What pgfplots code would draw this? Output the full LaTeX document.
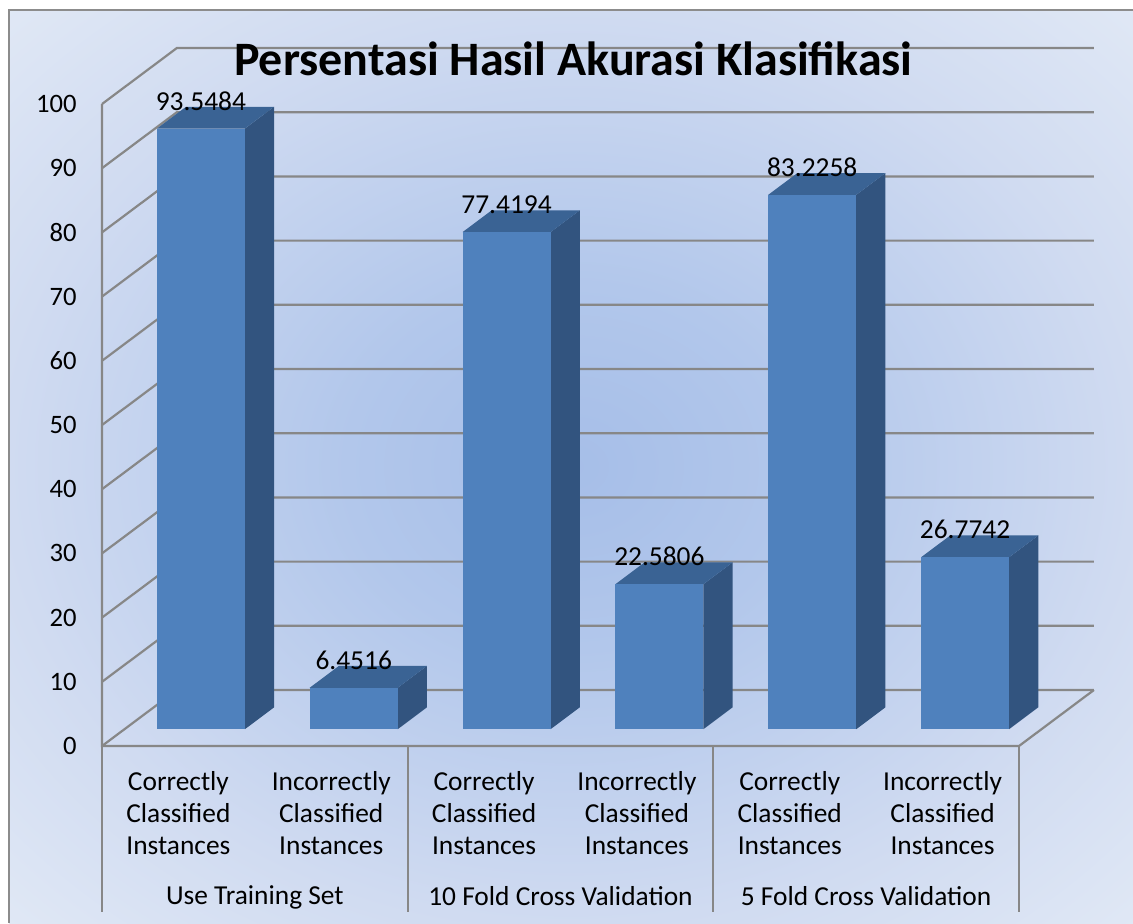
\documentclass[border=0pt]{standalone}
\usepackage{pgfplots}
\usepackage{pgfplotstable}
\pgfplotsset{compat=1.18}
\usepackage{fontspec}
\setmainfont{Carlito}
\definecolor{frontc}{HTML}{4F81BD}
\definecolor{sidec}{HTML}{32547F}
\definecolor{topc}{HTML}{3A6394}
\definecolor{gridc}{HTML}{878787}
\definecolor{bgin}{HTML}{A6BEE8}
\definecolor{bgq}{HTML}{B2C7EB}
\definecolor{bgmid}{HTML}{D0DBF1}
\definecolor{bgout}{HTML}{E0E8F5}
\pgfdeclareradialshading{bgshade}{\pgfpoint{0bp}{0bp}}{color(0bp)=(bgin); color(10bp)=(bgq); color(25bp)=(bgmid); color(35.5bp)=(bgout); color(50bp)=(bgout)}
\pgfplotstableread{
c v
0.5 93.5484
1.5 6.4516
2.5 77.4194
3.5 22.5806
4.5 83.2258
5.5 26.7742
}\datatab
\newcommand\cube[2]{%
 \pgfmathsetmacro\xa{#1-0.141}%
 \pgfmathsetmacro\xb{#1+0.435}%
 \pgfmathsetmacro\xc{#1+0.626}%
 \pgfmathsetmacro\xd{#1+0.05}%
 \pgfmathsetmacro\ya{2.62}%
 \pgfmathsetmacro\yb{#2+2.62}%
 \pgfmathsetmacro\yc{6.02}%
 \pgfmathsetmacro\yd{#2+6.02}%
 \addplot[fill=sidec, draw=none] coordinates {(\xb,\ya) (\xc,\yc) (\xc,\yd) (\xb,\yb)} -- cycle;
 \addplot[fill=topc, draw=none] coordinates {(\xa,\yb) (\xb,\yb) (\xc,\yd) (\xd,\yd)} -- cycle;
 \addplot[fill=frontc, draw=none] coordinates {(\xa,\ya) (\xb,\ya) (\xb,\yb) (\xa,\yb)} -- cycle;
}
\begin{document}
\begin{tikzpicture}
\fill[white] (0,0) rectangle (566.5pt,461.5pt);
\shade[shading=bgshade] (4.5pt,0) rectangle (566.5pt,456.5pt);
\draw[color=gray!90, line width=1pt] (4.5pt,0) -- (4.5pt,456.5pt) -- (566.5pt,456.5pt);
\begin{axis}[
  at={(51pt,88.5pt)}, anchor=south west,
  scale only axis, width=458.5pt, height=321pt,
  xmin=0, xmax=6, ymin=0, ymax=100,
  clip=false, no markers,
  axis line style={draw=none}, tick style={draw=none},
  ytick={0,10,...,100},
  yticklabel style={inner sep=0pt, xshift=-12.5pt, font=\fontsize{13.3}{15}\selectfont},
  /pgf/number format/assume math mode=true,
  xtick={0.5,1.5,...,5.5},
  xticklabels={{Correctly\\Classified\\Instances},{Incorrectly\\Classified\\Instances},{Correctly\\Classified\\Instances},{Incorrectly\\Classified\\Instances},{Correctly\\Classified\\Instances},{Incorrectly\\Classified\\Instances}},
  xticklabel style={inner sep=0pt, align=center, anchor=north, yshift=-12.3pt, font=\fontsize{13.7}{16}\selectfont},
  extra x ticks={1,3,5},
  extra x tick labels={Use Training Set,10 Fold Cross Validation,5 Fold Cross Validation},
  extra x tick style={xticklabel style={yshift=-57.5pt}},
  title={Persentasi Hasil Akurasi Klasifikasi},
  title style={at={(axis description cs:0.514,1.025)}, anchor=base, inner sep=0pt, font=\fontsize{24}{28}\selectfont\bfseries},
]
% walls
\addplot[gridc, line width=1.1pt] coordinates {(0,0) (0.49,8.72) (6.49,8.72)};
\addplot[gridc, line width=1.1pt] coordinates {(0,10) (0.49,18.72) (6.49,18.72)};
\addplot[gridc, line width=1.1pt] coordinates {(0,20) (0.49,28.72) (6.49,28.72)};
\addplot[gridc, line width=1.1pt] coordinates {(0,30) (0.49,38.72) (6.49,38.72)};
\addplot[gridc, line width=1.1pt] coordinates {(0,40) (0.49,48.72) (6.49,48.72)};
\addplot[gridc, line width=1.1pt] coordinates {(0,50) (0.49,58.72) (6.49,58.72)};
\addplot[gridc, line width=1.1pt] coordinates {(0,60) (0.49,68.72) (6.49,68.72)};
\addplot[gridc, line width=1.1pt] coordinates {(0,70) (0.49,78.72) (6.49,78.72)};
\addplot[gridc, line width=1.1pt] coordinates {(0,80) (0.49,88.72) (6.49,88.72)};
\addplot[gridc, line width=1.1pt] coordinates {(0,90) (0.49,98.72) (6.49,98.72)};
\addplot[gridc, line width=1.1pt] coordinates {(0,100) (0.49,108.72) (6.49,108.72)};
\addplot[gridc, line width=1.1pt] coordinates {(0,100) (0,0) (6,0) (6.49,8.72)};
\addplot[gridc, line width=1.1pt] coordinates {(0,0) (0,-25.86)};
\addplot[gridc, line width=1.1pt] coordinates {(2,0) (2,-25.86)};
\addplot[gridc, line width=1.1pt] coordinates {(4,0) (4,-25.86)};
\addplot[gridc, line width=1.1pt] coordinates {(6,0) (6,-25.86)};
% bars
\cube{0.5}{93.5484}
\cube{1.5}{6.4516}
\cube{2.5}{77.4194}
\cube{3.5}{22.5806}
\cube{4.5}{83.2258}
\cube{5.5}{26.7742}
% labels
\addplot[draw=none, nodes near coords, point meta=explicit symbolic,
  nodes near coords style={anchor=base, inner sep=0pt, text=black, font=\fontsize{13.7}{15}\selectfont}]
  table[x expr=\thisrow{c}+0.147, y expr=\thisrow{v}+5.5, meta=v] {\datatab};
\end{axis}
\pgfresetboundingbox
\useasboundingbox (0,0) rectangle (566.5pt,461.5pt);
\end{tikzpicture}
\end{document}
